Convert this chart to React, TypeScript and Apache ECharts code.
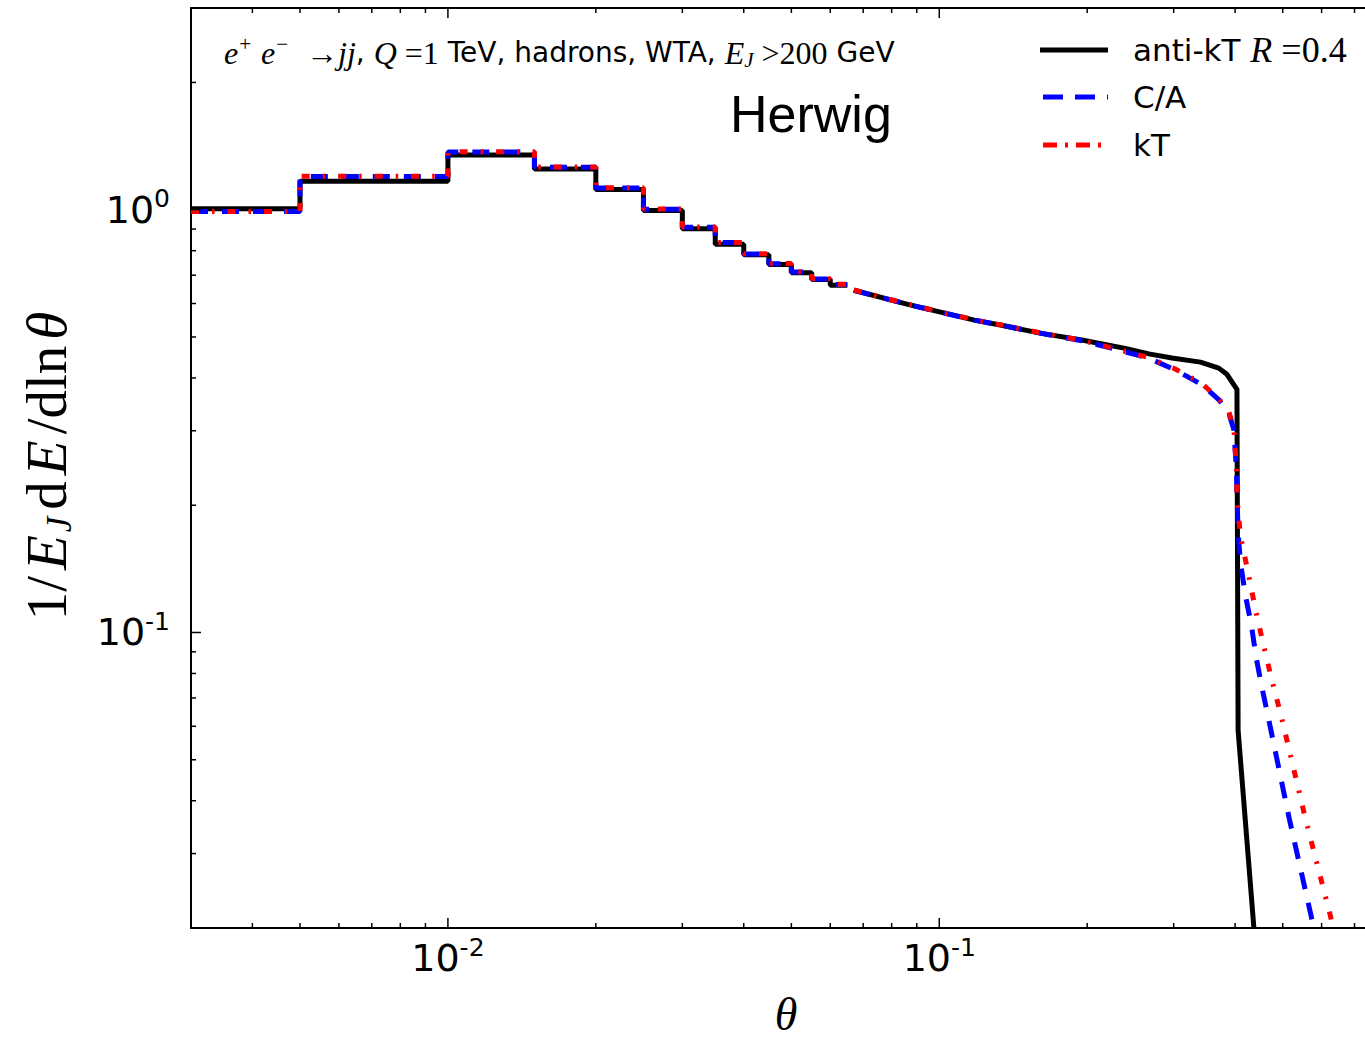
import React, { useEffect, useRef } from 'react';
import * as echarts from 'echarts';

// ---- Data ----
// Coarse histogram region: bin edges (theta) and bin heights
const binEdges = [0.003, 0.005, 0.01, 0.015, 0.02, 0.025, 0.03, 0.035, 0.04, 0.045, 0.05, 0.055, 0.06, 0.065];
const antiKtBins = [1.005, 1.167, 1.347, 1.248, 1.116, 0.996, 0.902, 0.828, 0.782, 0.742, 0.709, 0.684, 0.663];
const caBins = [0.99, 1.199, 1.37, 1.26, 1.126, 1.003, 0.909, 0.836, 0.786, 0.745, 0.712, 0.686, 0.665];
const ktBins = [0.99, 1.2, 1.372, 1.262, 1.127, 1.004, 0.91, 0.837, 0.787, 0.746, 0.713, 0.687, 0.666];

// Fine region (continuous curves)
const antiKtTheta = [0.067, 0.0863, 0.1179, 0.1338, 0.1614, 0.195, 0.239, 0.267, 0.2976, 0.34, 0.3705, 0.385, 0.395, 0.4035, 0.4057, 0.437];
const antiKtValue = [0.645, 0.597, 0.548, 0.533, 0.51, 0.492, 0.47, 0.456, 0.446, 0.436, 0.422, 0.408, 0.39, 0.376, 0.0587, 0.0199];

const caTheta = [0.067, 0.0863, 0.1179, 0.1338, 0.1614, 0.195, 0.228, 0.2667, 0.3021, 0.3424, 0.3705, 0.3883, 0.3976, 0.4025, 0.4038, 0.4057, 0.4101, 0.4199, 0.4318, 0.4419, 0.4541, 0.467, 0.515, 0.5695, 0.58];
const caValue = [0.645, 0.597, 0.548, 0.533, 0.51, 0.49, 0.468, 0.4455, 0.418, 0.3855, 0.3553, 0.3306, 0.302, 0.243, 0.2065, 0.1725, 0.1466, 0.1223, 0.1039, 0.0868, 0.0737, 0.0632, 0.0365, 0.0217, 0.0197];

const ktTheta = [0.067, 0.0863, 0.1179, 0.1338, 0.1614, 0.195, 0.228, 0.2667, 0.3021, 0.3424, 0.3705, 0.3883, 0.3976, 0.4025, 0.4038, 0.4101, 0.4251, 0.4401, 0.4576, 0.4761, 0.4966, 0.5556, 0.625, 0.634];
const ktValue = [0.646, 0.598, 0.549, 0.534, 0.511, 0.491, 0.469, 0.447, 0.42, 0.388, 0.357, 0.333, 0.305, 0.245, 0.2065, 0.1693, 0.1388, 0.1132, 0.0928, 0.0765, 0.0634, 0.0365, 0.0214, 0.0199];

// Axis ranges and ticks
const X_MIN = 0.003;
const X_MAX = 0.8;
const Y_MIN = 0.02;
const Y_MAX = 3;
const xMajorTicks = [0.01, 0.1];
const xMinorTicks = [0.004, 0.005, 0.006, 0.007, 0.008, 0.009, 0.02, 0.03, 0.04, 0.05, 0.06, 0.07, 0.08, 0.09, 0.2, 0.3, 0.4, 0.5, 0.6, 0.7];
const yMajorTicks = [0.1, 1];
const yMinorTicks = [0.03, 0.04, 0.05, 0.06, 0.07, 0.08, 0.09, 0.2, 0.3, 0.4, 0.5, 0.6, 0.7, 0.8, 0.9, 2];

const seriesNames = ['anti-kT', 'C/A', 'kT'];

function stepData(edges: number[], values: number[]) {
  const d = values.map((v, i) => [edges[i], v]);
  d.push([edges[edges.length - 1], values[values.length - 1]]);
  return d;
}
function pairs(t: number[], v: number[]) {
  return t.map((x, i) => [x, v[i]]);
}

const SANS = 'DejaVu Sans';
const SERIF = 'Liberation Serif';

export default function App() {
  const ref = useRef<HTMLDivElement>(null);
  useEffect(() => {
    if (!ref.current) return;
    const chart = echarts.init(ref.current, null, { renderer: 'svg' });

    const powLabel = (v: number) => {
      const l = Math.log10(v);
      const r = Math.round(l);
      if (Math.abs(l - r) > 1e-6) return '';
      return `{b|10}{s|${r}}`;
    };
    const labelRich = {
      b: { fontFamily: SANS, fontSize: 38, lineHeight: 42, color: '#000' },
      s: { fontFamily: SANS, fontSize: 25, lineHeight: 25, padding: [0, 0, 22, 0], color: '#000' },
    };

    const black = { color: '#000', width: 5, type: 'solid' as const, cap: 'butt' as const };
    const blue = { color: '#0000ff', width: 5, type: [17, 14], cap: 'butt' as const };
    const red = { color: '#ff0000', width: 5, type: [8, 13, 2.5, 13], cap: 'butt' as const };

    const lineSeries = (name: string, data: number[][], style: any, step: boolean, z: number) => ({
      name,
      type: 'line',
      data,
      step: step ? 'end' : false,
      showSymbol: false,
      symbol: 'none',
      lineStyle: style,
      itemStyle: { color: style.color },
      clip: true,
      z,
      silent: true,
    });

    const tickStyle = { stroke: '#000', lineWidth: 1.5 };
    const xTickData = [
      ...xMajorTicks.map((v) => [v, 1, 1]),
      ...xMinorTicks.map((v) => [v, 1, 0]),
    ];
    const yTickData = [
      ...yMajorTicks.map((v) => [0.01, v, 1]),
      ...yMinorTicks.map((v) => [0.01, v, 0]),
    ];

    const mathRich = {
      mi: { fontFamily: SERIF, fontStyle: 'italic', fontSize: 32, lineHeight: 38, color: '#000' },
      mr: { fontFamily: SERIF, fontSize: 32, lineHeight: 38, color: '#000' },
      ss: { fontFamily: SANS, fontSize: 28, lineHeight: 38, color: '#000' },
      sup: { fontFamily: SERIF, fontSize: 21, lineHeight: 21, padding: [0, 2, 18, 1], color: '#000' },
      sub: { fontFamily: SERIF, fontStyle: 'italic', fontSize: 21, lineHeight: 21, padding: [15, 0, 0, 0], color: '#000' },
    };

    const yPad = [0, 3, 0, 3];

    const option: any = {
      animation: false,
      backgroundColor: '#fff',
      grid: {
        left: 191,
        right: -18,
        top: 8,
        bottom: 112,
        show: true,
        borderColor: '#000',
        borderWidth: 2,
        outerBoundsMode: 'none',
        containLabel: false,
      },
      xAxis: {
        type: 'log',
        logBase: 10,
        min: X_MIN,
        max: X_MAX,
        axisLine: { show: false },
        axisTick: { show: false },
        splitLine: { show: false },
        axisLabel: {
          formatter: powLabel,
          rich: labelRich,
          margin: 9,
          showMinLabel: false,
          showMaxLabel: false,
        },
      },
      yAxis: {
        type: 'log',
        logBase: 10,
        min: Y_MIN,
        max: Y_MAX,
        axisLine: { show: false },
        axisTick: { show: false },
        splitLine: { show: false },
        axisLabel: {
          formatter: powLabel,
          rich: labelRich,
          margin: 21,
          showMinLabel: false,
          showMaxLabel: false,
        },
      },
      series: [
        lineSeries(seriesNames[0], stepData(binEdges, antiKtBins), black, true, 2),
        lineSeries(seriesNames[0], pairs(antiKtTheta, antiKtValue), black, false, 2),
        lineSeries(seriesNames[1], stepData(binEdges, caBins), blue, true, 3),
        lineSeries(seriesNames[1], pairs(caTheta, caValue), blue, false, 3),
        lineSeries(seriesNames[2], stepData(binEdges, ktBins), red, true, 4),
        lineSeries(seriesNames[2], pairs(ktTheta, ktValue), red, false, 4),
        {
          type: 'custom',
          coordinateSystem: 'cartesian2d',
          silent: true,
          z: 6,
          data: xTickData,
          renderItem: (params: any, api: any) => {
            const cs = params.coordSys;
            const x = api.coord([api.value(0), 1])[0];
            const len = api.value(2) ? 10 : 5;
            const bottom = cs.y + cs.height;
            return {
              type: 'group',
              children: [
                { type: 'line', shape: { x1: x, y1: bottom, x2: x, y2: bottom - len }, style: tickStyle },
                { type: 'line', shape: { x1: x, y1: cs.y, x2: x, y2: cs.y + len }, style: tickStyle },
              ],
            };
          },
        },
        {
          type: 'custom',
          coordinateSystem: 'cartesian2d',
          silent: true,
          z: 6,
          data: yTickData,
          renderItem: (params: any, api: any) => {
            const cs = params.coordSys;
            const y = api.coord([0.01, api.value(1)])[1];
            const len = api.value(2) ? 10 : 5;
            return {
              type: 'line',
              shape: { x1: cs.x, y1: y, x2: cs.x + len, y2: y },
              style: tickStyle,
            };
          },
        },
      ],
      graphic: [
        // annotation
        {
          type: 'text',
          left: 224,
          top: 33,
          style: {
            text: '{mi|e}{sup|+}{mi| e}{sup|−}{mr|  →}{mi|jj}{ss|, }{mi|Q}{mr| =1}{ss| TeV, hadrons, WTA, }{mi|E}{sub|J}{mr| >200}{ss| GeV}',
            rich: mathRich,
          },
        },
        {
          type: 'text',
          x: 730,
          y: 114,
          style: {
            text: 'Herwig',
            fontFamily: 'Liberation Sans',
            fontSize: 52,
            fill: '#000',
            align: 'left',
            verticalAlign: 'middle',
          },
        },
        // legend
        { type: 'line', shape: { x1: 1040, y1: 50, x2: 1108, y2: 50 }, style: { stroke: '#000', lineWidth: 5 } },
        { type: 'line', shape: { x1: 1043, y1: 97, x2: 1108, y2: 97 }, style: { stroke: '#0000ff', lineWidth: 5, lineDash: [20, 12] } },
        { type: 'line', shape: { x1: 1043, y1: 145, x2: 1108, y2: 145 }, style: { stroke: '#ff0000', lineWidth: 5, lineDash: [14, 8, 3, 8] } },
        {
          type: 'text',
          x: 1133,
          y: 50,
          style: {
            text: '{s|anti-kT }{mi|R}{mr| =0.4}',
            verticalAlign: 'middle',
            rich: {
              s: { fontFamily: SANS, fontSize: 31, color: '#000', lineHeight: 40 },
              mi: { fontFamily: SERIF, fontStyle: 'italic', fontSize: 36, color: '#000', lineHeight: 40 },
              mr: { fontFamily: SERIF, fontSize: 36, color: '#000', lineHeight: 40 },
            },
          },
        },
        {
          type: 'text',
          x: 1133,
          y: 97,
          style: { text: 'C/A', fontFamily: SANS, fontSize: 31, fill: '#000', verticalAlign: 'middle' },
        },
        {
          type: 'text',
          x: 1133,
          y: 145,
          style: { text: 'kT', fontFamily: SANS, fontSize: 31, fill: '#000', verticalAlign: 'middle' },
        },
        // axis titles
        {
          type: 'text',
          x: 786,
          y: 1014,
          style: {
            text: 'θ',
            fontFamily: SERIF,
            fontStyle: 'italic',
            fontSize: 46,
            fill: '#000',
            align: 'center',
            verticalAlign: 'middle',
          },
        },
        {
          type: 'text',
          x: 46,
          y: 466,
          rotation: Math.PI / 2,
          style: {
            text: '{r|1/}{i|E}{sub|J}{r|d}{i|E}{r|/dln}{i|θ}',
            align: 'center',
            verticalAlign: 'middle',
            rich: {
              r: { fontFamily: SERIF, fontSize: 57, color: '#000', lineHeight: 62, padding: yPad },
              i: { fontFamily: SERIF, fontStyle: 'italic', fontSize: 57, color: '#000', lineHeight: 62, padding: yPad },
              sub: { fontFamily: SERIF, fontStyle: 'italic', fontSize: 35, color: '#000', lineHeight: 35, padding: [26, 4, 0, 0] },
            },
          },
        },
      ],
    };

    chart.setOption(option);
    return () => chart.dispose();
  }, []);

  return (
    <div
      ref={ref}
      style={{ position: 'absolute', left: 0, top: 0, width: 1365, height: 1040, background: '#fff' }}
    />
  );
}
